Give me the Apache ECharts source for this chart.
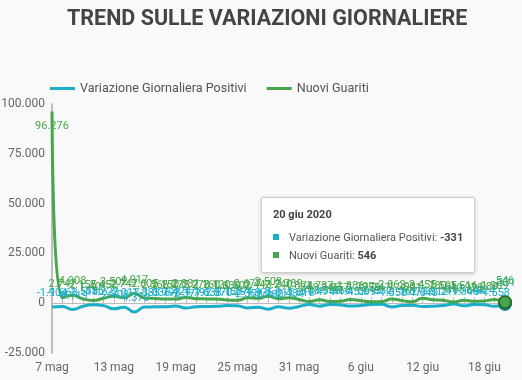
<!DOCTYPE html>
<html><head><meta charset="utf-8">
<script src="https://cdn.jsdelivr.net/npm/echarts@6/dist/echarts.min.js"></script>
<style>html,body{margin:0;padding:0;background:#f9f9f9}#c{width:522px;height:380px}</style>
</head><body><div id="c"></div>
<script>
const dates = ['7 mag','8 mag','9 mag','10 mag','11 mag','12 mag','13 mag','14 mag','15 mag','16 mag','17 mag','18 mag','19 mag','20 mag','21 mag','22 mag','23 mag','24 mag','25 mag','26 mag','27 mag','28 mag','29 mag','30 mag','31 mag',
  '1 giu','2 giu','3 giu','4 giu','5 giu','6 giu','7 giu','8 giu','9 giu','10 giu','11 giu','12 giu','13 giu','14 giu','15 giu','16 giu','17 giu','18 giu','19 giu','20 giu'];
const variazione = [-1904,-1663,-3119,-1518,-836,-1222,-2809,-2017,-4370,-1883,-1836,-1798,-1424,-2377,-1792,-1638,-1570,-1158,-1294,-2358,-1976,-2980,-1811,-2484,-1616,
  -708,-1474,-596,-868,-1453,-1099,-615,-532,-1858,-1162,-1073,-1640,-1512,-1211,-365,-1340,-644,-824,-1558,-331];
const guariti = [96276,2747,4008,2155,1401,2452,3502,2747,4917,2605,2366,2150,2075,2881,2278,2160,2120,1639,1502,2677,2443,3503,2240,2789,1874,
  848,1737,846,957,1886,1297,759,747,2062,1293,691,2455,1780,1505,640,1516,929,1089,1909,546];
const seriesNames = ['Variazione Giornaliera Positivi','Nuovi Guariti'];
const year = '2020';

const BLUE = '#1aaec8', GREEN = '#45a64b';
function fmt(v){ const s = Math.abs(v).toString().replace(/\B(?=(\d{3})+(?!\d))/g,'.'); return (v<0?'-':'')+s; }

const chart = echarts.init(document.getElementById('c'), null, {renderer:'canvas'});
const FONT = 'Roboto';
const last = dates.length-1;
const greenData = guariti.map((v,i)=> i===0 ? {value:v, label:{position:'bottom', distance:9}} : v);
const symSize = (v,p)=> p.dataIndex===last ? 11 : 0;

chart.setOption({
  animation:false,
  backgroundColor:'#f9f9f9',
  textStyle:{fontFamily:FONT},
  title:{text:'TREND SULLE VARIAZIONI GIORNALIERE', left:62, top:4,
    textStyle:{fontSize:21.5, fontWeight:'bold', color:'#444', fontFamily:FONT}},
  legend:{top:77, left:45, itemGap:20, itemWidth:25, itemHeight:3, icon:'rect',
    itemStyle:{borderWidth:0},
    textStyle:{color:'#555', fontSize:12.6, fontFamily:FONT},
    data:seriesNames},
  grid:{left:52, right:17, top:104, bottom:27, containLabel:false, outerBoundsMode:'none'},
  tooltip:{trigger:'axis', axisPointer:{type:'none'}, alwaysShowContent:true,
    position:[261,197], backgroundColor:'#fff', borderColor:'#ccc', borderWidth:1,
    padding:[10,11], extraCssText:'box-shadow:0 1px 4px rgba(0,0,0,0.2);border-radius:2px;',
    formatter:function(ps){
      let h = '<div style="font:bold 11px Roboto;color:#444;margin-bottom:10px">'+ps[0].axisValue+' '+year+'</div>';
      ps.forEach((p,k)=>{
        h += '<div style="font:11px Roboto;color:#555;line-height:13px;'+(k?'margin-top:5px':'')+'"><span style="display:inline-block;width:6px;height:6px;background:'+p.color+';margin-right:10px;vertical-align:1px"></span>'+p.seriesName+': <b style="color:#444">'+fmt(p.value)+'</b></div>';
      });
      return h;
    }},
  xAxis:[
    {type:'category', boundaryGap:false, data:dates, position:'bottom',
     axisLine:{onZero:true, lineStyle:{color:'#bbb', width:1}},
     axisTick:{show:true, interval:0, inside:true, length:6, lineStyle:{color:'#bbb'}},
     axisLabel:{show:false}, splitLine:{show:false}},
    {type:'category', boundaryGap:false, data:dates, position:'bottom',
     axisLine:{show:false, onZero:false}, axisTick:{show:false}, splitLine:{show:false},
     axisLabel:{interval:5, margin:9, color:'#666', fontSize:12, fontFamily:FONT}}
  ],
  yAxis:{type:'value', min:-25000, max:100000, interval:25000,
    axisLine:{show:true, lineStyle:{color:'#aaa', width:1.5}},
    axisTick:{show:false}, splitLine:{show:false},
    axisLabel:{formatter:fmt, color:'#666', fontSize:12, margin:7, fontFamily:FONT}},
  series:[
    {name:seriesNames[0], type:'line', smooth:true, data:variazione, color:BLUE, xAxisIndex:0,
     showSymbol:true, symbol:'circle', symbolSize:symSize,
     itemStyle:{color:BLUE, borderColor:'#0e7f92', borderWidth:2},
     lineStyle:{width:3, color:BLUE},
     label:{show:true, position:'top', distance:8, color:BLUE, fontSize:11, fontFamily:FONT,
       formatter:p=>fmt(p.value)},
     emphasis:{disabled:true}},
    {name:seriesNames[1], type:'line', smooth:true, data:greenData, color:GREEN, xAxisIndex:0,
     showSymbol:true, symbol:'circle', symbolSize:symSize,
     itemStyle:{color:GREEN, borderColor:'#2a6e2e', borderWidth:2},
     lineStyle:{width:3, color:GREEN},
     label:{show:true, position:'top', distance:8, color:GREEN, fontSize:11, fontFamily:FONT,
       formatter:p=>fmt(p.value)},
     emphasis:{disabled:true}}
  ]
});
chart.dispatchAction({type:'showTip', seriesIndex:1, dataIndex:last});
</script></body></html>
